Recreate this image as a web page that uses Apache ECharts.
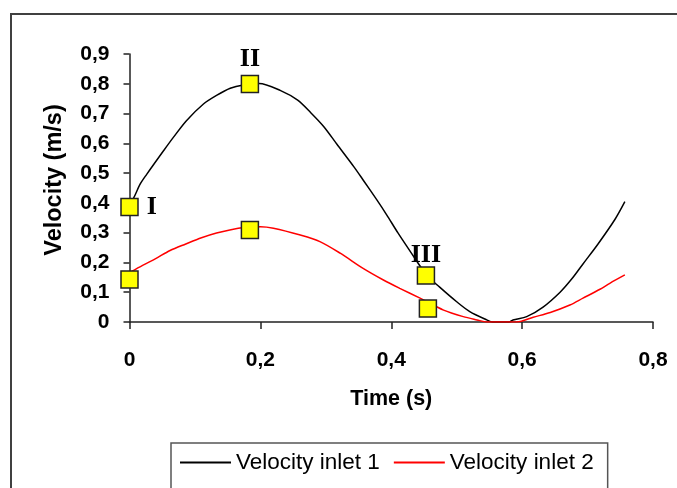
<!DOCTYPE html>
<html>
<head>
<meta charset="utf-8">
<script src="https://cdn.jsdelivr.net/npm/echarts@6/dist/echarts.min.js"></script>
<style>
  html, body { margin: 0; padding: 0; background: #fff; }
  #chart { width: 677px; height: 488px; }
</style>
</head>
<body>
<div id="chart"></div>
<script>
// values
const inlet1Time = [0.003, 0.006, 0.016, 0.026, 0.052, 0.067, 0.087, 0.113, 0.133, 0.154, 0.174, 0.198,
  0.231, 0.257, 0.277, 0.297, 0.317, 0.343, 0.357, 0.378, 0.393, 0.41, 0.43, 0.454, 0.474, 0.5,
  0.52, 0.546, 0.555, 0.58, 0.586, 0.607, 0.632, 0.658, 0.676, 0.693, 0.716, 0.742, 0.757];
const inlet1Vel = [0.41, 0.415, 0.462, 0.495, 0.575, 0.62, 0.676, 0.732, 0.761, 0.785, 0.796, 0.801,
  0.777, 0.745, 0.703, 0.656, 0.597, 0.521, 0.477, 0.41, 0.36, 0.3, 0.234, 0.158, 0.117, 0.068,
  0.035, 0.007, 0, 0, 0.007, 0.018, 0.05, 0.1, 0.145, 0.195, 0.262, 0.345, 0.404];

const inlet2Time = [0.002, 0.02, 0.04, 0.062, 0.086, 0.11, 0.133, 0.155, 0.175, 0.2, 0.22, 0.261,
  0.291, 0.322, 0.357, 0.388, 0.413, 0.444, 0.48, 0.51, 0.531, 0.546, 0.592, 0.617, 0.643, 0.673,
  0.693, 0.719, 0.734, 0.757];
const inlet2Vel = [0.168, 0.19, 0.213, 0.24, 0.262, 0.283, 0.299, 0.31, 0.317, 0.32, 0.315, 0.292,
  0.27, 0.231, 0.18, 0.141, 0.113, 0.08, 0.04, 0.018, 0.007, 0, 0, 0.016, 0.032, 0.057,
  0.08, 0.11, 0.13, 0.158];

const markTime = [0, 0.184, 0.453, 0, 0.184, 0.456];
const markVel = [0.386, 0.799, 0.156, 0.143, 0.309, 0.045];
const markLabel = ['I', 'II', 'III', '', '', ''];

const seriesNames = ['Velocity inlet 1', 'Velocity inlet 2'];
const xTicks = ['0', '0,2', '0,4', '0,6', '0,8'];
const yTicks = ['0', '0,1', '0,2', '0,3', '0,4', '0,5', '0,6', '0,7', '0,8', '0,9'];

const font = 'Liberation Sans, Arial, sans-serif';

const pairs = (xs, ys) => xs.map((x, i) => [x, ys[i]]);

const labelStyle = {
  I: { position: 'right', distance: 8 },
  II: { position: 'top', distance: 3 },
  III: { position: 'top', distance: -2 }
};

const markData = markTime.map((t, i) => {
  const name = markLabel[i];
  const item = { value: [t, markVel[i]] };
  if (name) {
    item.label = Object.assign({
      show: true,
      formatter: name,
      fontFamily: 'Liberation Serif, Times New Roman, serif',
      fontWeight: 'bold',
      fontSize: 26,
      color: '#000'
    }, labelStyle[name]);
  }
  return item;
});

const chart = echarts.init(document.getElementById('chart'));

const axisLine = { lineStyle: { color: '#222', width: 1.5 } };

const option = {
  animation: false,
  backgroundColor: '#fff',
  grid: { left: 129.5, right: 24, top: 54, bottom: 166 },
  legend: {
    data: seriesNames,
    left: 171,
    top: 443,
    padding: [8, 14, 40, 9],
    borderColor: '#555',
    borderWidth: 1.5,
    itemGap: 14,
    itemWidth: 51,
    itemHeight: 2,
    icon: 'rect',
    textStyle: { fontFamily: font, fontSize: 22.5, color: '#000' }
  },
  xAxis: {
    type: 'value',
    min: 0,
    max: 0.8,
    interval: 0.2,
    name: 'Time (s)',
    nameLocation: 'middle',
    nameGap: 66,
    nameTextStyle: { fontFamily: font, fontWeight: 'bold', fontSize: 21.5, color: '#000' },
    axisLine: axisLine,
    axisTick: { show: true, length: 7, lineStyle: { color: '#222', width: 1.5 } },
    axisLabel: {
      margin: 28,
      fontFamily: font, fontWeight: 'bold', fontSize: 21, color: '#000',
      formatter: v => xTicks[Math.round(v / 0.2)]
    },
    splitLine: { show: false }
  },
  yAxis: {
    type: 'value',
    min: 0,
    max: 0.9,
    interval: 0.1,
    name: 'Velocity (m/s)',
    nameLocation: 'middle',
    nameGap: 63,
    nameTextStyle: { fontFamily: font, fontWeight: 'bold', fontSize: 23.5, color: '#000', padding: [0, 0, 0, 16] },
    axisLine: Object.assign({ show: true }, axisLine),
    axisTick: { show: true, length: 6, lineStyle: { color: '#222', width: 1.5 } },
    axisLabel: {
      margin: 20,
      fontFamily: font, fontWeight: 'bold', fontSize: 21, color: '#000',
      formatter: v => yTicks[Math.round(v / 0.1)]
    },
    splitLine: { show: false }
  },
  graphic: [{
    type: 'rect',
    shape: { x: 11, y: 14, width: 690, height: 500 },
    style: { fill: 'none', stroke: '#404040', lineWidth: 2 },
    silent: true
  }],
  series: [
    {
      name: seriesNames[0],
      type: 'line',
      data: pairs(inlet1Time, inlet1Vel),
      showSymbol: false,
      smooth: 0.3,
      lineStyle: { color: '#000', width: 1.5 },
      itemStyle: { color: '#000' }
    },
    {
      name: seriesNames[1],
      type: 'line',
      data: pairs(inlet2Time, inlet2Vel),
      showSymbol: false,
      smooth: 0.3,
      lineStyle: { color: '#ff0000', width: 1.5 },
      itemStyle: { color: '#ff0000' }
    },
    {
      name: 'Points',
      type: 'scatter',
      data: markData,
      symbol: 'rect',
      symbolSize: 17,
      z: 5,
      itemStyle: { color: '#ffff00', borderColor: '#222', borderWidth: 1.5, opacity: 1 }
    }
  ]
};

chart.setOption(option);
</script>
</body>
</html>
